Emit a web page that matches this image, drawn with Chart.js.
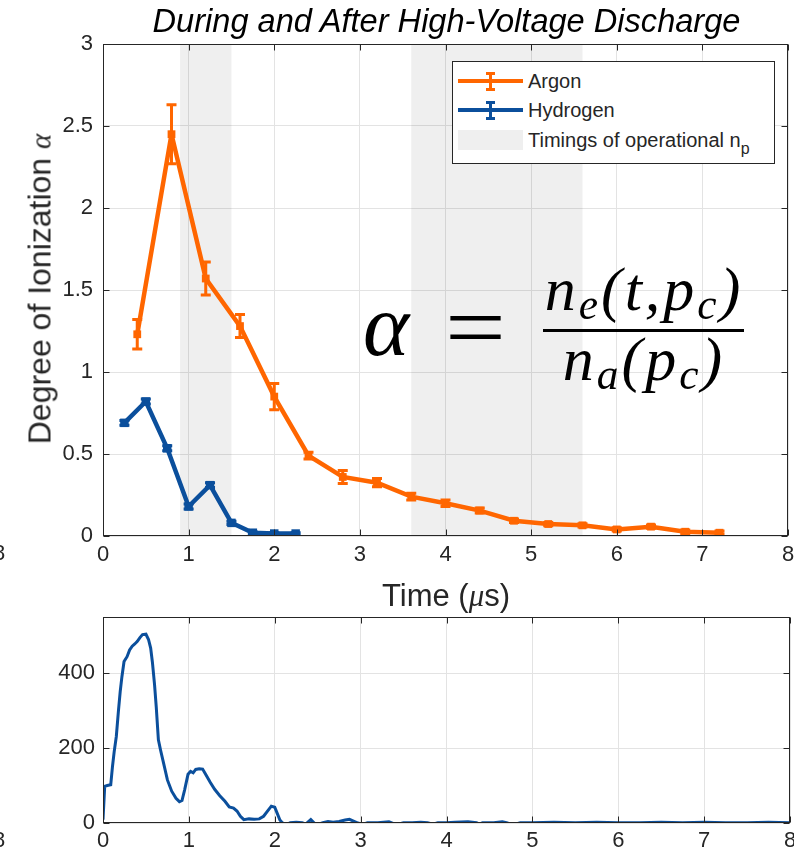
<!DOCTYPE html>
<html>
<head>
<meta charset="utf-8">
<script src="https://cdn.jsdelivr.net/npm/chart.js@4.4.1/dist/chart.umd.min.js"></script>
<style>
  html, body { margin: 0; padding: 0; background: #fff; }
  #page { position: relative; width: 794px; height: 853px; overflow: hidden;
          font-family: "Liberation Sans", Arial, sans-serif; color: #262626; }
  canvas { position: absolute; left: 0; }
  .lbl { position: absolute; white-space: nowrap; }
  .math { font-family: "Liberation Serif", "Times New Roman", serif; font-style: italic; }
  .sub { font-size: 0.7em; vertical-align: -0.2em; }
  #legend { position: absolute; left: 452px; top: 61px; width: 321px; height: 101px;
            border: 1px solid #262626; background: #fff; }
  #legend .txt { position: absolute; left: 75px; font-size: 20px; line-height: 22px; color: #262626; }
  #legend .ln { position: absolute; left: 5px; width: 65px; height: 4px; }
  #legend .eb { position: absolute; left: 36px; width: 3px; height: 17px; }
  #legend .cap { position: absolute; left: 33px; width: 9px; height: 3px; }
</style>
</head>
<body>
<div id="page">
  <canvas id="topChart" width="794" height="580" style="top:0"></canvas>
  <canvas id="bottomChart" width="794" height="263" style="top:590px"></canvas>

  <div class="lbl" style="left:103px; width:687px; top:3px; text-align:center; font-size:32.6px; line-height:36px; font-style:italic; color:#000;">During and After High-Voltage Discharge</div>

  <div class="lbl" style="left:40px; top:289px; transform:translate(-50%,-50%) rotate(-90deg); font-size:32px; line-height:34px;">Degree of Ionization <span class="math" style="font-size:29px;">α</span></div>

  <div class="lbl" style="left:446px; top:579px; transform:translateX(-50%); font-size:31px; line-height:34px;">Time (<span class="math">μ</span>s)</div>

  <div class="lbl" style="left:-7px; top:541px; font-size:22px; line-height:24px;">8</div>
  <div class="lbl" style="left:-7px; top:828px; font-size:22px; line-height:24px;">8</div>

  <!-- formula -->
  <div class="lbl math" style="left:363px; top:282px; font-size:88px; line-height:88px; color:#000;">α</div>
  <div class="lbl" style="left:445px; top:283px; font-family:'Liberation Serif',serif; font-size:90px; line-height:90px; color:#000; transform:scaleX(1.2); transform-origin:left center;">=</div>
  <div class="lbl math" style="left:543px; width:202px; top:258px; text-align:center; font-size:62px; line-height:62px; letter-spacing:3px; color:#000;">n<span class="sub">e</span>(t,p<span class="sub">c</span>)</div>
  <div class="lbl" style="left:543px; top:329px; width:201px; height:3px; background:#000;"></div>
  <div class="lbl math" style="left:543px; width:202px; top:328px; text-align:center; font-size:62px; line-height:62px; letter-spacing:3px; color:#000;">n<span class="sub">a</span>(p<span class="sub">c</span>)</div>

  <div id="legend">
    <div class="ln" style="top:17px; background:#ff6600;"></div>
    <div class="eb" style="top:11px; background:#ff6600;"></div>
    <div class="cap" style="top:10px; background:#ff6600;"></div>
    <div class="cap" style="top:26px; background:#ff6600;"></div>
    <div class="txt" style="top:8px;">Argon</div>

    <div class="ln" style="top:46px; background:#0b4f9c;"></div>
    <div class="eb" style="top:40px; background:#0b4f9c;"></div>
    <div class="cap" style="top:39px; background:#0b4f9c;"></div>
    <div class="cap" style="top:55px; background:#0b4f9c;"></div>
    <div class="txt" style="top:37px;">Hydrogen</div>

    <div class="ln" style="top:68px; height:20px; background:#efefef;"></div>
    <div class="txt" style="top:67px;">Timings of operational n<span style="font-size:0.8em; vertical-align:-0.45em;">p</span></div>
  </div>
</div>

<script>
// degree of ionization, top panel
const argonTime = [0.4, 0.8, 1.2, 1.6, 2.0, 2.4, 2.8, 3.2, 3.6, 4.0, 4.4, 4.8, 5.2, 5.6, 6.0, 6.4, 6.8, 7.2];
const argonAlpha = [1.23, 2.45, 1.57, 1.28, 0.85, 0.49, 0.36, 0.325, 0.24, 0.20, 0.155, 0.093, 0.073, 0.065, 0.04, 0.057, 0.026, 0.02];
const argonErr = [0.09, 0.18, 0.10, 0.07, 0.08, 0.02, 0.04, 0.025, 0.02, 0.02, 0.015, 0.01, 0.01, 0.01, 0.01, 0.01, 0.01, 0.01];

const hydrogenTime = [0.25, 0.5, 0.75, 1.0, 1.25, 1.5, 1.75, 2.0, 2.25];
const hydrogenAlpha = [0.69, 0.82, 0.535, 0.18, 0.31, 0.08, 0.02, 0.015, 0.015];
const hydrogenErr = [0.015, 0.015, 0.015, 0.015, 0.015, 0.01, 0.005, 0.005, 0.005];

// operational n_p windows
const shadeStart = [0.9, 3.6];
const shadeEnd = [1.5, 5.6];

// discharge signal, bottom panel
const signalTime = [0, 0.02, 0.05, 0.09, 0.11, 0.13, 0.155, 0.18, 0.2, 0.22, 0.245, 0.28, 0.31, 0.34, 0.37, 0.4, 0.43, 0.46, 0.5,
  0.53, 0.555, 0.575, 0.6, 0.62, 0.645, 0.67, 0.7, 0.75, 0.8, 0.85, 0.89, 0.92, 0.95, 0.99, 1.02, 1.05, 1.08, 1.12, 1.16,
  1.2, 1.25, 1.3, 1.36, 1.42, 1.47, 1.52, 1.56, 1.6, 1.64, 1.7, 1.76, 1.82, 1.87, 1.92, 1.96, 2.0, 2.03, 2.06, 2.09,
  2.14, 2.18, 2.25, 2.32, 2.36, 2.42, 2.46, 2.5, 2.56, 2.62, 2.68, 2.75, 2.82, 2.87, 2.93, 2.97, 3.02, 3.08, 3.2, 3.33,
  3.4, 3.46, 3.5, 3.6, 3.7, 3.78, 3.84, 3.9, 4.0, 4.1, 4.25, 4.35, 4.38, 4.42, 4.55, 4.65, 4.7, 4.76, 4.82, 4.86,
  5.0, 5.25, 5.5, 5.75, 6.0, 6.25, 6.5, 6.75, 7.0, 7.25, 7.5, 7.75, 8.0];
const signalValue = [9, 98, 100, 102, 150, 190, 231, 300, 350, 390, 431, 444, 462, 472, 478, 485, 495, 503, 504,
  490, 467, 430, 370, 310, 222, 195, 165, 115, 85, 66, 57, 60, 88, 130, 138, 134, 143, 145, 144,
  128, 108, 90, 73, 58, 43, 40, 32, 18, 9, 11, 10, 11, 18, 33, 45, 42, 25, 8, 0,
  -4, 1, 2, 1, -3, 9, 0, -4, 1, 4, 2, 4, 8, 10, 4, 0, -4, 1, 1, 3,
  -3, -2, 1, 1, 2, 1, -3, 1, 1, 2, 3, 1, -3, 1, 1, 3, 1, -4, -2, 1,
  1, 2, 1, 2, 1, 1, 2, 1, 2, 1, 1, 2, 1];

const timeTicks = [0, 1, 2, 3, 4, 5, 6, 7, 8];
const alphaTicks = [0, 0.5, 1, 1.5, 2, 2.5, 3];
const signalTicks = [0, 200, 400];

const ORANGE = "#ff6600";
const BLUE = "#0b4f9c";
const GRID = "#e3e3e3";
const AXIS = "#262626";

Chart.defaults.font.family = '"Liberation Sans", Arial, sans-serif';
Chart.defaults.font.size = 22;
Chart.defaults.color = AXIS;

// grey bands behind the lines
const shadePlugin = {
  id: "shade",
  beforeDatasetsDraw(chart, args, opts) {
    if (!opts.start) return;
    const { ctx, chartArea, scales } = chart;
    ctx.save();
    ctx.fillStyle = "rgba(0,0,0,0.062)";
    opts.start.forEach((s, i) => {
      const x1 = scales.x.getPixelForValue(s);
      const x2 = scales.x.getPixelForValue(opts.end[i]);
      ctx.fillRect(x1, chartArea.top, x2 - x1, chartArea.height);
    });
    ctx.restore();
  },
};

// vertical error bars with caps
const errorBarPlugin = {
  id: "errorBars",
  afterDatasetsDraw(chart) {
    const { ctx, scales } = chart;
    ctx.save();
    chart.data.datasets.forEach((ds) => {
      if (!ds.errors) return;
      ctx.strokeStyle = ds.borderColor;
      ctx.lineWidth = 3;
      ds.data.forEach((p, j) => {
        const e = ds.errors[j];
        const x = scales.x.getPixelForValue(p.x);
        const yTop = scales.y.getPixelForValue(p.y + e);
        const yBot = scales.y.getPixelForValue(p.y - e);
        ctx.beginPath();
        ctx.moveTo(x, yTop);
        ctx.lineTo(x, yBot);
        ctx.moveTo(x - 5, yTop);
        ctx.lineTo(x + 5, yTop);
        ctx.moveTo(x - 5, yBot);
        ctx.lineTo(x + 5, yBot);
        ctx.stroke();
      });
    });
    ctx.restore();
  },
};

// box around the axes with inward ticks on all four sides
const boxPlugin = {
  id: "axesBox",
  afterDraw(chart) {
    const { ctx, chartArea: a, scales } = chart;
    const L = Math.round(a.left) + 0.5, R = Math.round(a.right) - 0.5;
    const T = Math.round(a.top) + 0.5, B = Math.round(a.bottom) - 0.5;
    ctx.save();
    ctx.strokeStyle = AXIS;
    ctx.lineWidth = 1;
    ctx.strokeRect(L, T, R - L, B - T);
    ctx.beginPath();
    scales.x.ticks.forEach((t) => {
      const x = Math.round(scales.x.getPixelForValue(t.value)) + 0.5;
      ctx.moveTo(x, B); ctx.lineTo(x, B - 6);
      ctx.moveTo(x, T); ctx.lineTo(x, T + 6);
    });
    scales.y.ticks.forEach((t) => {
      const y = Math.round(scales.y.getPixelForValue(t.value)) + 0.5;
      ctx.moveTo(L, y); ctx.lineTo(L + 6, y);
      ctx.moveTo(R, y); ctx.lineTo(R - 6, y);
    });
    ctx.stroke();
    ctx.restore();
  },
};

function fixedTicks(values) {
  return (scale) => { scale.ticks = values.map((v) => ({ value: v })); };
}

new Chart(document.getElementById("topChart"), {
  type: "line",
  data: {
    datasets: [
      {
        label: "Argon",
        data: argonTime.map((t, i) => ({ x: t, y: argonAlpha[i] })),
        errors: argonErr,
        borderColor: ORANGE,
        backgroundColor: ORANGE,
        borderWidth: 4.5,
        pointStyle: "rect",
        pointRadius: 5.5,
        pointHoverRadius: 5.5,
        pointBorderWidth: 0,
      },
      {
        label: "Hydrogen",
        data: hydrogenTime.map((t, i) => ({ x: t, y: hydrogenAlpha[i] })),
        errors: hydrogenErr,
        borderColor: BLUE,
        backgroundColor: BLUE,
        borderWidth: 4.5,
        pointStyle: "rect",
        pointRadius: 6,
        pointHoverRadius: 6,
        pointBorderWidth: 0,
      },
    ],
  },
  options: {
    responsive: false,
    animation: false,
    devicePixelRatio: 1,
    layout: { padding: { top: 44, right: 4, left: 0, bottom: 0 } },
    plugins: {
      legend: { display: false },
      tooltip: { enabled: false },
      shade: { start: shadeStart, end: shadeEnd },
    },
    scales: {
      x: {
        type: "linear",
        min: 0,
        max: 8,
        afterBuildTicks: fixedTicks(timeTicks),
        afterFit: (s) => { s.height = 44; s.paddingLeft = 0; s.paddingRight = 0; },
        grid: { color: GRID, drawTicks: false },
        border: { display: false },
        ticks: { padding: 6, callback: (v) => String(v) },
      },
      y: {
        min: 0,
        max: 3,
        afterBuildTicks: fixedTicks(alphaTicks),
        afterFit: (s) => { s.width = 103; s.paddingTop = 0; s.paddingBottom = 0; },
        grid: { color: GRID, drawTicks: false },
        border: { display: false },
        ticks: { padding: 10, callback: (v) => String(v) },
      },
    },
  },
  plugins: [shadePlugin, errorBarPlugin, boxPlugin],
});

new Chart(document.getElementById("bottomChart"), {
  type: "line",
  data: {
    datasets: [
      {
        label: "Signal",
        data: signalTime.map((t, i) => ({ x: t, y: signalValue[i] })),
        borderColor: BLUE,
        borderWidth: 3,
        pointRadius: 0,
        clip: 0,
      },
    ],
  },
  options: {
    responsive: false,
    animation: false,
    devicePixelRatio: 1,
    layout: { padding: { top: 27, right: 4, left: 0, bottom: 0 } },
    plugins: { legend: { display: false }, tooltip: { enabled: false } },
    scales: {
      x: {
        type: "linear",
        min: 0,
        max: 8,
        afterBuildTicks: fixedTicks(timeTicks),
        afterFit: (s) => { s.height = 30; s.paddingLeft = 0; s.paddingRight = 0; },
        grid: { color: GRID, drawTicks: false },
        border: { display: false },
        ticks: { padding: 5, callback: (v) => String(v) },
      },
      y: {
        min: 0,
        max: 550,
        afterBuildTicks: fixedTicks(signalTicks),
        afterFit: (s) => { s.width = 103; s.paddingTop = 0; s.paddingBottom = 0; },
        grid: { color: GRID, drawTicks: false },
        border: { display: false },
        ticks: { padding: 8, callback: (v) => String(v) },
      },
    },
  },
  plugins: [boxPlugin],
});
</script>
</body>
</html>
